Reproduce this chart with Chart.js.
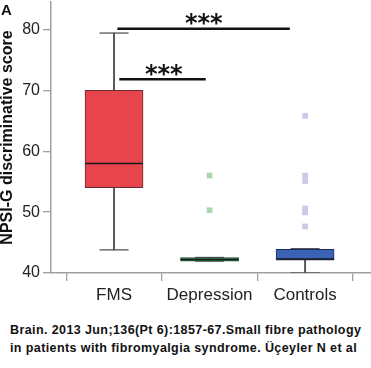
<!DOCTYPE html>
<html>
<head>
<meta charset="utf-8">
<script src="https://cdn.jsdelivr.net/npm/chart.js@4"></script>
<style>
  body { margin: 0; background: #fff; width: 371px; height: 368px; overflow: hidden; position: relative; }
  #wrap { position: absolute; left: 0; top: 0; width: 371px; height: 310px; }
  #panel { position: absolute; left: 1px; top: 1px; font: bold 15px 'Liberation Sans', Arial, sans-serif; color: #111; }
  #caption { position: absolute; left: 10px; top: 321px; font: bold 12.5px/18px 'Liberation Sans', Arial, sans-serif; letter-spacing: 0.4px; color: #111; white-space: nowrap; }
</style>
</head>
<body>
<div id="wrap"><canvas id="boxChart"></canvas></div>
<div id="panel">A</div>
<div id="caption">Brain. 2013 Jun;136(Pt 6):1857-67.Small fibre pathology<br>in patients with fibromyalgia syndrome. Üçeyler N et al</div>
<script>
// Groups and box-plot summary values
const groups = ['FMS', 'Depression', 'Controls'];
const groupPos = [1, 2, 3];
const q1 = [54, 41.95, 42.1];
const q3 = [70, 42.55, 43.9];
const medians = [58, 42.2, 42.3];
const whiskerLow = [43.8, 41.95, 40];
const whiskerHigh = [79.4, 42.55, 44];

// Outliers
const depOutliers = [56, 50.3];
const ctrlOutliers = [65.8, 56, 55.1, 50.6, 49.95, 47.65];

// Significance brackets: [x start, x end, y]
const sigBars = [[1.035, 2.84, 80.1], [1.055, 1.96, 71.8]];
const sigLabels = ['***', '***'];
const sigLabelPos = [[1.94, 80.35], [1.52, 72.05]];

const yTicks = [40, 50, 60, 70, 80];

const boxColors = ['#e8444e', '#2f8a52', '#3a62b5'];
const boxBorders = ['#6a2a2e', '#1d4a2c', '#1b2d5c'];
const axisColor = '#a0a0a0';

const sigLinePlugin = {
    id: 'sigStars',
    afterDatasetsDraw(chart) {
        const { ctx, scales: { x, y } } = chart;
        ctx.save();
        ctx.font = "bold 24px 'DejaVu Sans'";
        ctx.fillStyle = '#111';
        ctx.textAlign = 'center';
        ctx.textBaseline = 'alphabetic';
        sigLabels.forEach((txt, i) => {
            ctx.fillText(txt, x.getPixelForValue(sigLabelPos[i][0]), y.getPixelForValue(sigLabelPos[i][1]) + 4);
        });
        ctx.restore();
    }
};

// keep the plot area where the figure has it
function noPad(s) {
    s.paddingLeft = 0;
    s.paddingRight = 0;
    s.paddingTop = 0;
    s.paddingBottom = 0;
}

new Chart(document.getElementById('boxChart'), {
    type: 'bar',
    data: {
        datasets: [
            // significance brackets
            ...sigBars.map(b => ({
                type: 'line',
                data: [{ x: b[0], y: b[2] }, { x: b[1], y: b[2] }],
                borderColor: '#111',
                borderWidth: 2.5,
                pointRadius: 0,
                order: 0
            })),
            // medians
            {
                type: 'scatter',
                data: groupPos.map((p, i) => ({ x: p, y: medians[i] })),
                pointStyle: 'line',
                pointRadius: 29,
                borderColor: '#1a1a1a',
                borderWidth: 1.5,
                order: 1
            },
            // boxes
            {
                type: 'bar',
                data: groupPos.map((p, i) => ({ x: p, y: [q1[i], q3[i]] })),
                backgroundColor: boxColors,
                borderColor: boxBorders,
                borderWidth: 1,
                borderSkipped: false,
                barThickness: 58,
                grouped: false,
                order: 2
            },
            // whisker caps
            {
                type: 'scatter',
                data: groupPos.flatMap((p, i) => [{ x: p, y: whiskerLow[i] }, { x: p, y: whiskerHigh[i] }]),
                pointStyle: 'line',
                pointRadius: 14.5,
                borderColor: '#555',
                borderWidth: 1.3,
                order: 3
            },
            // whisker stems
            {
                type: 'bar',
                data: groupPos.map((p, i) => ({ x: p, y: [whiskerLow[i], whiskerHigh[i]] })),
                backgroundColor: '#555',
                barThickness: 1.3,
                grouped: false,
                order: 4
            },
            // outliers
            {
                type: 'scatter',
                data: depOutliers.map(v => ({ x: 2, y: v })),
                pointStyle: 'rect',
                pointRadius: 4,
                backgroundColor: '#a8d6b0',
                borderWidth: 0,
                order: 5
            },
            {
                type: 'scatter',
                data: ctrlOutliers.map(v => ({ x: 3, y: v })),
                pointStyle: 'rect',
                pointRadius: 4,
                backgroundColor: '#c9c9e8',
                borderWidth: 0,
                order: 5
            }
        ]
    },
    options: {
        responsive: true,
        maintainAspectRatio: false,
        animation: false,
        layout: { autoPadding: false, padding: { top: 2, left: 0, right: 0, bottom: 0 } },
        plugins: { legend: { display: false }, tooltip: { enabled: false } },
        scales: {
            x: {
                type: 'linear',
                offset: false,
                min: 0.34,
                max: 3.69,
                afterBuildTicks: s => { s.ticks = groupPos.map(v => ({ value: v })); },
                afterFit: s => { s.height = 37; noPad(s); },
                ticks: {
                    callback: v => groups[groupPos.indexOf(v)],
                    color: '#222',
                    font: { family: "'Liberation Sans', Arial", size: 17 },
                    padding: 4,
                    maxRotation: 0,
                    autoSkip: false
                },
                grid: { drawOnChartArea: false, drawTicks: true, tickLength: 8, color: axisColor, lineWidth: 1.3 },
                border: { color: axisColor, width: 1.5 }
            },
            y: {
                min: 40,
                max: 84.5,
                afterBuildTicks: s => { s.ticks = yTicks.map(v => ({ value: v })); },
                afterFit: s => { s.width = 51; noPad(s); },
                ticks: {
                    color: '#222',
                    font: { family: "'Liberation Sans', Arial", size: 16 },
                    padding: 3
                },
                grid: { drawOnChartArea: false, drawTicks: true, tickLength: 8, color: axisColor, lineWidth: 1.3 },
                border: { color: axisColor, width: 1.5 },
                title: {
                    display: true,
                    text: 'NPSI-G discriminative score',
                    color: '#111',
                    font: { family: "'Liberation Sans', Arial", size: 16, weight: 'bold', lineHeight: 1 },
                    padding: 0
                }
            }
        }
    },
    plugins: [sigLinePlugin]
});
</script>
</body>
</html>
